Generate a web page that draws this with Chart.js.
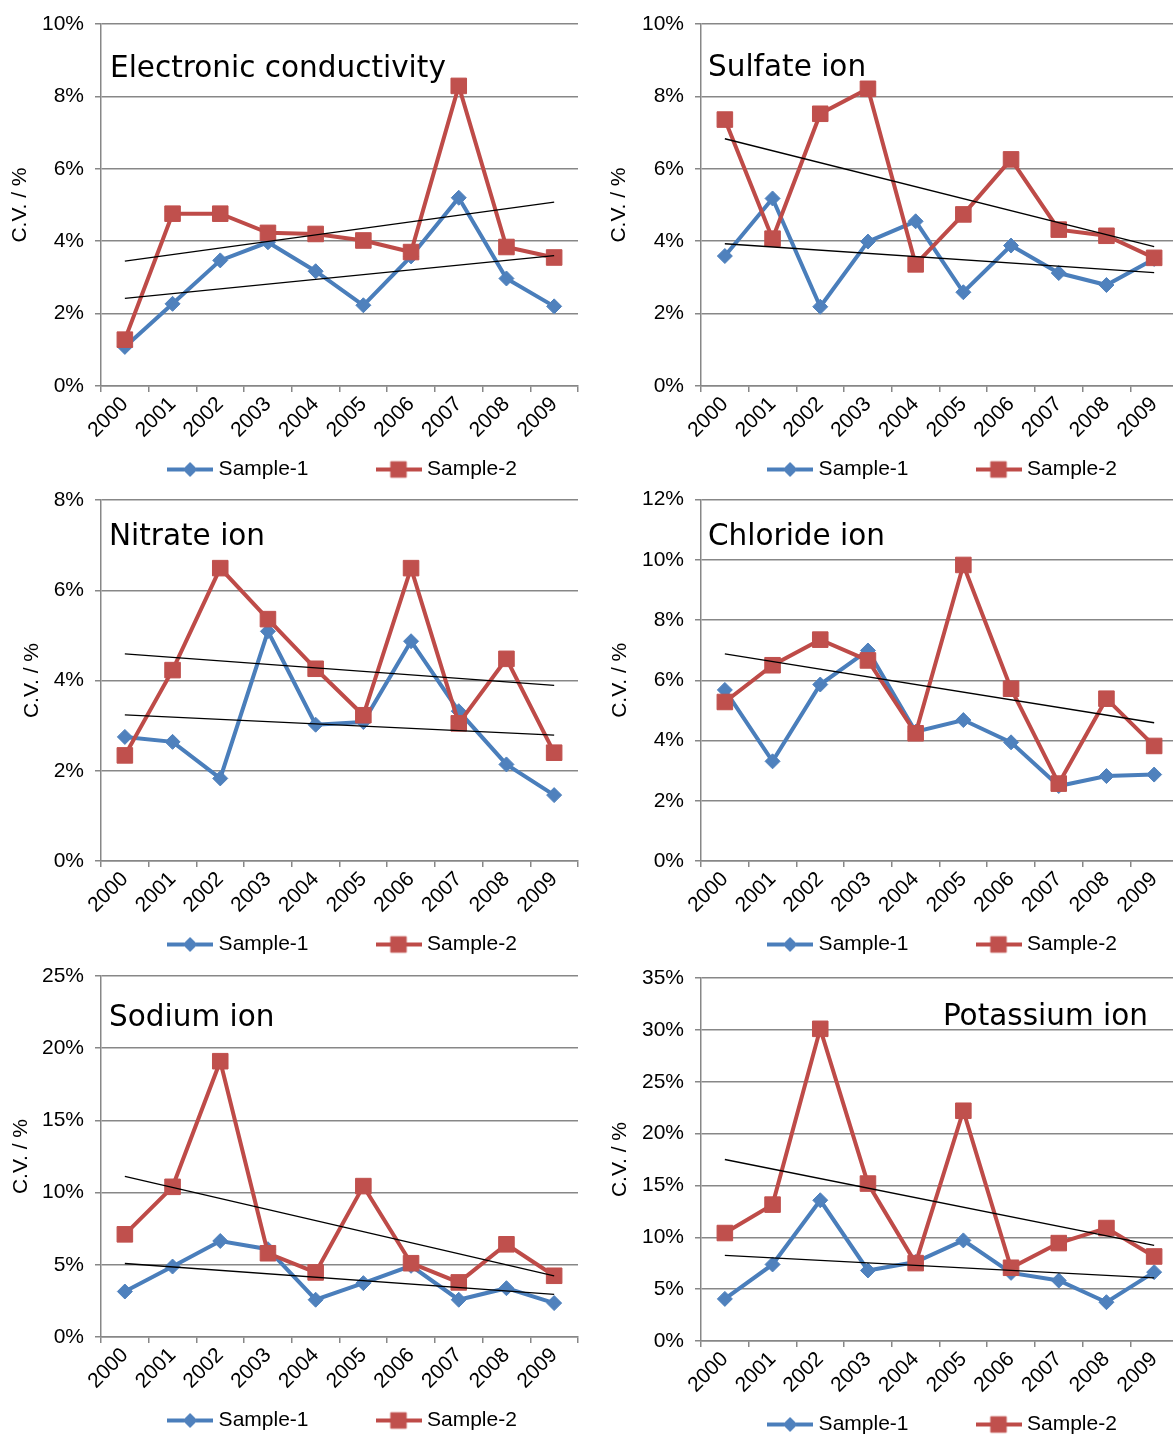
<!DOCTYPE html>
<html>
<head>
<meta charset="utf-8">
<script src="https://cdn.jsdelivr.net/npm/chart.js@4.4.1/dist/chart.umd.min.js"></script>
<style>
  html, body { margin: 0; padding: 0; background: #fff; overflow: hidden; }
  #wrap { position: relative; width: 1173px; height: 1437px; overflow: hidden; background: #fff; }
  #wrap canvas { position: absolute; }
</style>
</head>
<body>
<div id="wrap"></div>
<script>
// ---------- DATA (values in %) ----------
const years = ['2000','2001','2002','2003','2004','2005','2006','2007','2008','2009'];
const seriesNames = ['Sample-1', 'Sample-2'];
const yAxisTitle = 'C.V. / %';

// Electronic conductivity
const ecSample1 = [1.08, 2.27, 3.47, 3.97, 3.17, 2.23, 3.58, 5.20, 2.97, 2.20];
const ecSample2 = [1.28, 4.76, 4.76, 4.23, 4.20, 4.02, 3.70, 8.29, 3.84, 3.55];
const ecTrend1  = [2.42, 3.60];   // trend line of Sample-1 (2000 -> 2009)
const ecTrend2  = [3.45, 5.08];   // trend line of Sample-2

// Sulfate ion
const so4Sample1 = [3.59, 5.18, 2.19, 3.99, 4.55, 2.59, 3.88, 3.12, 2.79, 3.51];
const so4Sample2 = [7.36, 4.07, 7.52, 8.21, 3.36, 4.74, 6.26, 4.32, 4.15, 3.54];
const so4Trend1  = [3.93, 3.13];
const so4Trend2  = [6.83, 3.85];

// Nitrate ion
const no3Sample1 = [2.75, 2.64, 1.83, 5.09, 3.02, 3.08, 4.87, 3.32, 2.14, 1.46];
const no3Sample2 = [2.34, 4.23, 6.49, 5.36, 4.26, 3.23, 6.49, 3.05, 4.48, 2.40];
const no3Trend1  = [3.24, 2.79];
const no3Trend2  = [4.59, 3.89];

// Chloride ion
const clSample1 = [5.68, 3.31, 5.86, 6.99, 4.29, 4.68, 3.94, 2.49, 2.82, 2.87];
const clSample2 = [5.28, 6.50, 7.35, 6.66, 4.24, 9.83, 5.72, 2.57, 5.39, 3.82];
const clTrend2  = [6.88, 4.59];

// Sodium ion
const naSample1 = [3.15, 4.88, 6.65, 6.08, 2.58, 3.73, 4.93, 2.58, 3.38, 2.35];
const naSample2 = [7.11, 10.40, 19.10, 5.80, 4.47, 10.45, 5.11, 3.78, 6.42, 4.24];
const naTrend1  = [5.09, 2.95];
const naTrend2  = [11.12, 4.24];

// Potassium ion
const kSample1 = [4.06, 7.38, 13.57, 6.80, 7.61, 9.70, 6.57, 5.83, 3.74, 6.64];
const kSample2 = [10.41, 13.15, 30.10, 15.18, 7.51, 22.20, 7.06, 9.44, 10.89, 8.15];
const kTrend1  = [8.25, 6.09];
const kTrend2  = [17.50, 9.22];

// axis ranges
const yMaxes  = [10, 10, 8, 12, 25, 35];
const ySteps  = [2, 2, 2, 2, 5, 5];
const titles  = ['Electronic conductivity', 'Sulfate ion', 'Nitrate ion', 'Chloride ion', 'Sodium ion', 'Potassium ion'];

// ---------- STYLE / LAYOUT ----------
const BLUE_LINE = '#4A7EBB', BLUE_MARK = '#4F81BD';
const RED_LINE = '#BE4B48', RED_MARK = '#C0504D';
const GRID = '#878787';
const FONT = '"Liberation Sans", Arial, sans-serif';
const X_AXIS_H = 62;     // height reserved for rotated year labels
const LEGEND_GAP = 1;    // legend box top relative to plot bottom
const LEGEND_SHIFT = 5;  // legend centre slightly right of plot centre

Chart.defaults.font.family = FONT;
Chart.defaults.font.size = 21;
Chart.defaults.color = '#000';

// chart area of each panel = (canvas x + pad.left + yW, canvas y + pad.top) ... right edge = x + w - pad.right
const panels = [
  { s1: ecSample1,  s2: ecSample2,  t1: ecTrend1,  t2: ecTrend2,
    x: 0,   y: 0,   w: 590, plotH: 362, pad: {left: 8,  top: 24, right: 7, bottom: 0}, yW: 93, tDx: 9,   tDy: 52.7, tAlign: 'left' },
  { s1: so4Sample1, s2: so4Sample2, t1: so4Trend1, t2: so4Trend2,
    x: 590, y: 0,   w: 600, plotH: 362, pad: {left: 17, top: 24, right: 7, bottom: 0}, yW: 94, tDx: 7,   tDy: 52,   tAlign: 'left' },
  { s1: no3Sample1, s2: no3Sample2, t1: no3Trend1, t2: no3Trend2,
    x: 0,   y: 476, w: 590, plotH: 361, pad: {left: 20, top: 24, right: 7, bottom: 0}, yW: 81, tDx: 8,   tDy: 45,   tAlign: 'left' },
  { s1: clSample1,  s2: clSample2,  t1: null,      t2: clTrend2,
    x: 590, y: 476, w: 600, plotH: 362, pad: {left: 18, top: 23, right: 7, bottom: 0}, yW: 93, tDx: 7,   tDy: 45,   tAlign: 'left' },
  { s1: naSample1,  s2: naSample2,  t1: naTrend1,  t2: naTrend2,
    x: 0,   y: 952, w: 590, plotH: 361, pad: {left: 9,  top: 24, right: 7, bottom: 0}, yW: 92, tDx: 8,   tDy: 49.7, tAlign: 'left' },
  { s1: kSample1,   s2: kSample2,   t1: kTrend1,   t2: kTrend2,
    x: 590, y: 952, w: 600, plotH: 363, pad: {left: 18, top: 26, right: 7, bottom: 0}, yW: 93, tDx: 447, tDy: 47,   tAlign: 'right' }
];

const LEGEND_PAD = 72;
const LEGEND_H = 21 + LEGEND_PAD + 10;

// title drawn inside the plot area
const panelTitle = {
  id: 'panelTitle',
  afterDraw(chart, args, opts) {
    const {ctx, chartArea} = chart;
    ctx.save();
    ctx.font = '29.5px "DejaVu Sans", Verdana, sans-serif';
    ctx.fillStyle = '#000';
    ctx.textAlign = opts.align;
    ctx.textBaseline = 'alphabetic';
    ctx.fillText(opts.text, chartArea.left + opts.dx, chartArea.top + opts.dy);
    ctx.restore();
  }
};

// put the legend right under the plot, centred on the plot width (Excel style)
const legendUnderPlot = {
  id: 'legendUnderPlot',
  afterLayout(chart) {
    const lg = chart.legend, ca = chart.chartArea;
    if (!lg) return;
    const extra = 30;   // keeps both entries on one row
    lg.left = ca.left - extra + LEGEND_SHIFT; lg.right = ca.right + extra + LEGEND_SHIFT;
    lg.width = lg.right - lg.left;
    lg.top = ca.bottom + LEGEND_GAP; lg.bottom = lg.top + lg.height;
  }
};

// legend icon: a short line with the marker in the middle
function legendIcon(color, markColor, style, radius) {
  const c = document.createElement('canvas');
  c.width = 46; c.height = 22;
  const g = c.getContext('2d');
  g.strokeStyle = color; g.lineWidth = 4;
  g.beginPath(); g.moveTo(0, 11); g.lineTo(46, 11); g.stroke();
  g.fillStyle = markColor; g.strokeStyle = markColor; g.lineWidth = 1;
  Chart.helpers.drawPoint(g, {pointStyle: style, radius: radius, rotation: 0, borderWidth: 1}, 23, 11);
  return c;
}
const iconBlue = legendIcon(BLUE_LINE, BLUE_MARK, 'rectRot', 7);
const iconRed  = legendIcon(RED_LINE, RED_MARK, 'rect', 11);

function trendData(t) {
  const d = years.map(() => null);
  d[0] = t[0];
  d[years.length - 1] = t[1];
  return d;
}

const wrap = document.getElementById('wrap');
panels.forEach((p, i) => {
  const h = p.pad.top + p.plotH + X_AXIS_H + LEGEND_H + p.pad.bottom;
  const cv = document.createElement('canvas');
  cv.width = p.w; cv.height = h;
  cv.style.left = p.x + 'px'; cv.style.top = p.y + 'px';
  cv.style.width = p.w + 'px'; cv.style.height = h + 'px';
  wrap.appendChild(cv);

  const datasets = [
    { label: seriesNames[0], data: p.s1, order: 3,
      borderColor: BLUE_LINE, borderWidth: 4, backgroundColor: BLUE_MARK,
      pointStyle: 'rectRot', pointRadius: 7.5, pointHoverRadius: 7.5,
      pointBackgroundColor: BLUE_MARK, pointBorderColor: BLUE_MARK, pointBorderWidth: 1, tension: 0 },
    { label: seriesNames[1], data: p.s2, order: 2,
      borderColor: RED_LINE, borderWidth: 4, backgroundColor: RED_MARK,
      pointStyle: 'rect', pointRadius: 11, pointHoverRadius: 11,
      pointBackgroundColor: RED_MARK, pointBorderColor: RED_MARK, pointBorderWidth: 1, tension: 0 }
  ];
  [p.t1, p.t2].forEach(t => {
    if (!t) return;
    datasets.push({ label: 'trend', data: trendData(t), order: 1, spanGaps: true,
      borderColor: '#000', borderWidth: 1.3, pointRadius: 0, pointHoverRadius: 0, tension: 0 });
  });

  new Chart(cv, {
    type: 'line',
    data: { labels: years, datasets },
    options: {
      responsive: false,
      animation: false,
      devicePixelRatio: 1,
      layout: { padding: p.pad },
      plugins: {
        tooltip: { enabled: false },
        title: { display: false },
        panelTitle: { text: titles[i], dx: p.tDx, dy: p.tDy, align: p.tAlign },
        legend: {
          display: true,
          position: 'bottom',
          fullSize: true,
          align: 'center',
          labels: {
            usePointStyle: true,
            pointStyleWidth: 36,
            padding: LEGEND_PAD,
            color: '#000',
            font: { size: 21, family: FONT },
            generateLabels: (chart) => [0, 1].map(k => ({
              text: chart.data.datasets[k].label,
              datasetIndex: k,
              hidden: false,
              pointStyle: k === 0 ? iconBlue : iconRed,
              fillStyle: chart.data.datasets[k].borderColor,
              strokeStyle: chart.data.datasets[k].borderColor,
              lineWidth: 0,
              fontColor: '#000'
            }))
          }
        }
      },
      scales: {
        x: {
          type: 'category',
          offset: true,
          grid: { display: true, drawOnChartArea: false, drawTicks: true, tickLength: 6,
                  offset: true, color: GRID, lineWidth: 1.5 },
          border: { display: true, color: GRID, width: 1.5 },
          ticks: { autoSkip: false, maxRotation: 45, minRotation: 45, padding: 0,
                   color: '#000', font: { size: 21, family: FONT } },
          afterFit: (s) => { s.height = X_AXIS_H; }
        },
        y: {
          min: 0,
          max: yMaxes[i],
          grid: { display: true, drawOnChartArea: true, drawTicks: true, tickLength: 6,
                  color: GRID, lineWidth: 1.5 },
          border: { display: true, color: GRID, width: 1.5 },
          ticks: { stepSize: ySteps[i], padding: 11, color: '#000',
                   font: { size: 21, family: FONT },
                   callback: (v) => v + '%' },
          title: { display: true, text: yAxisTitle, color: '#000', padding: 0,
                   font: { size: 21, family: FONT } },
          afterFit: ((w) => (s) => { s.width = w; })(p.yW)
        }
      }
    },
    plugins: [panelTitle, legendUnderPlot]
  });
});
</script>
</body>
</html>
